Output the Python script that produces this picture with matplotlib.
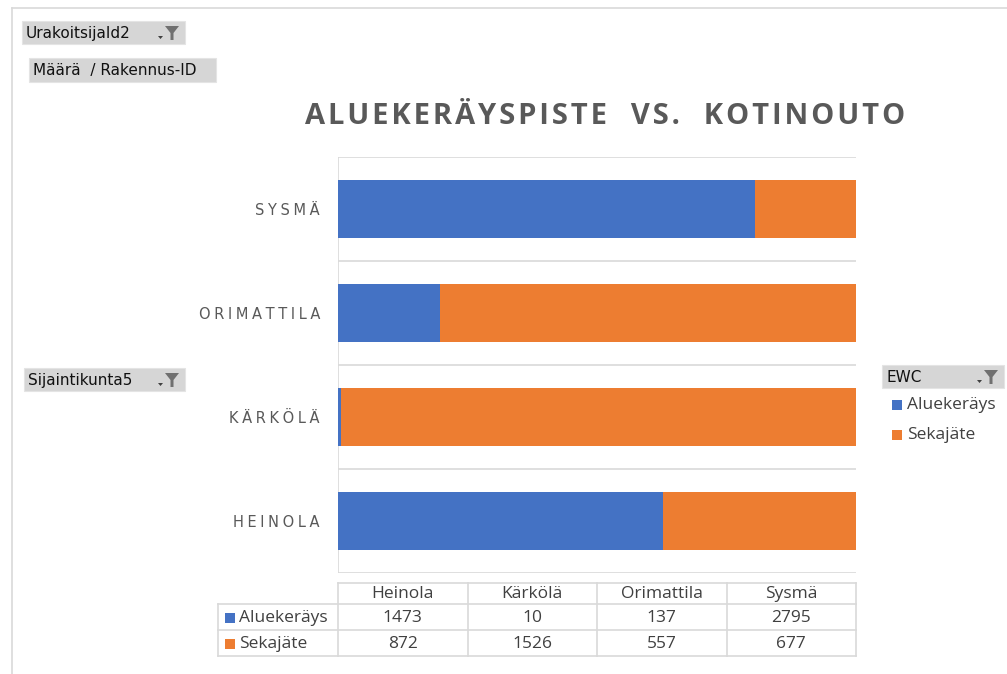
import matplotlib.pyplot as plt
from matplotlib.patches import Rectangle, Polygon
import numpy as np

# data from the pivot chart
kunnat = ['Heinola', 'Kärkölä', 'Orimattila', 'Sysmä']
aluekerays = [1473, 10, 137, 2795]
sekajate = [872, 1526, 557, 677]
sarjat = ['Aluekeräys', 'Sekajäte']
varit = ['#4472C4', '#ED7D31']

W, H = 1007, 674
fig = plt.figure(figsize=(W / 100, H / 100), dpi=100)

# overlay in pixel coordinates for the pivot buttons, frame and data table
ov = fig.add_axes([0, 0, 1, 1])
ov.set_xlim(0, W)
ov.set_ylim(H, 0)
ov.axis('off')

grey_line = '#d9d9d9'
txt_grey = '#595959'

# outer frame of the chart object
ov.plot([12, 12], [8, H], color=grey_line, lw=1.2)
ov.plot([12, W], [8, 8], color=grey_line, lw=1.2)


def filter_button(x, y, w, h, label, funnel=True):
    ov.add_patch(Rectangle((x, y), w, h, facecolor='#d6d6d6', edgecolor='#e4e4e4', lw=0.8))
    ov.text(x + 4, y + h / 2 + 1, label, fontsize=11, family='DejaVu Sans',
            va='center', ha='left', color='#111111')
    if funnel:
        fx = x + w - 20
        fy = y + 5
        ov.add_patch(Polygon([[fx, fy], [fx + 14, fy], [fx + 8.5, fy + 7], [fx + 8.5, fy + 14],
                              [fx + 5.5, fy + 14], [fx + 5.5, fy + 7]], closed=True,
                             facecolor='#707070', edgecolor='none'))
        ov.add_patch(Polygon([[fx - 7, fy + 10], [fx - 2, fy + 10], [fx - 4.5, fy + 13]],
                             closed=True, facecolor='#404040', edgecolor='none'))


filter_button(22, 21, 163, 23, 'UrakoitsijaId2')
filter_button(29, 58, 187, 24, 'Määrä  / Rakennus-ID', funnel=False)
filter_button(24, 368, 161, 23, 'Sijaintikunta5')
filter_button(882, 365, 122, 23, 'EWC')

# title, letters spread a little like Excel's character spacing
otsikko = 'ALUEKERÄYSPISTE  VS.  KOTINOUTO'
ov.text(605, 116, '\u200a'.join(otsikko), fontsize=21, fontweight='bold',
        family=['Open Sans', 'DejaVu Sans'], color=txt_grey, ha='center', va='center')

# main plot area
x0, x1, y0, y1 = 338, 856, 157, 573
ax = fig.add_axes([x0 / W, 1 - y1 / H, (x1 - x0) / W, (y1 - y0) / H])
ax.patch.set_alpha(0)

a = np.array(aluekerays, dtype=float)
s = np.array(sekajate, dtype=float)
osuus_a = a / (a + s)
osuus_s = s / (a + s)
ypos = np.arange(len(kunnat))
ax.barh(ypos, osuus_a, height=0.56, color=varit[0], zorder=3)
ax.barh(ypos, osuus_s, left=osuus_a, height=0.56, color=varit[1], zorder=3)
ax.set_xlim(0, 1)
ax.set_ylim(-0.5, len(kunnat) - 0.5)
for g in np.arange(-0.5, len(kunnat), 1.0):
    ax.axhline(g, color=grey_line, lw=1.2, zorder=1)
for sp in ax.spines.values():
    sp.set_visible(False)
ax.axvline(0, color=grey_line, lw=1.2, zorder=1)
ax.set_xticks([])
ax.set_yticks(ypos)
ax.set_yticklabels(['\u2005'.join(k.upper()) for k in kunnat], fontsize=10.5, color=txt_grey,
                   family='DejaVu Sans')
ax.tick_params(axis='y', length=0, pad=13)

# data table under the chart
col_edges = np.linspace(x0, x1, len(kunnat) + 1)
row_edges = [583, 604, 630, 656]
lbl_left = 218
tc = '#404040'
fs = 12.5
for xe in col_edges:
    ov.plot([xe, xe], [row_edges[0], row_edges[-1]], color=grey_line, lw=1.2)
ov.plot([lbl_left, lbl_left], [row_edges[1], row_edges[-1]], color=grey_line, lw=1.2)
ov.plot([x0, x1], [row_edges[0], row_edges[0]], color=grey_line, lw=1.2)
for ye in row_edges[1:]:
    ov.plot([lbl_left, x1], [ye, ye], color=grey_line, lw=1.2)
centers = (col_edges[:-1] + col_edges[1:]) / 2
for cx, k in zip(centers, kunnat):
    ov.text(cx, (row_edges[0] + row_edges[1]) / 2 + 1, k, fontsize=fs, family='Open Sans',
            color=tc, ha='center', va='center')
for r, (nimi, vals, c) in enumerate(zip(sarjat, [aluekerays, sekajate], varit)):
    ym = (row_edges[r + 1] + row_edges[r + 2]) / 2 + 1
    ov.add_patch(Rectangle((225, ym - 5), 10, 10, facecolor=c, edgecolor='none'))
    ov.text(239, ym, nimi, fontsize=fs, family='Open Sans', color=tc, ha='left', va='center')
    for cx, v in zip(centers, vals):
        ov.text(cx, ym, str(v), fontsize=fs, family='Open Sans', color=tc,
                ha='center', va='center')

# legend on the right
for i, (nimi, c) in enumerate(zip(sarjat, varit)):
    ly = 405 + 30 * i
    ov.add_patch(Rectangle((892, ly - 5), 10, 10, facecolor=c, edgecolor='none'))
    ov.text(907, ly, nimi, fontsize=fs, family='Open Sans', color='#404040',
            ha='left', va='center')

fig.savefig('out.png', dpi=100)
